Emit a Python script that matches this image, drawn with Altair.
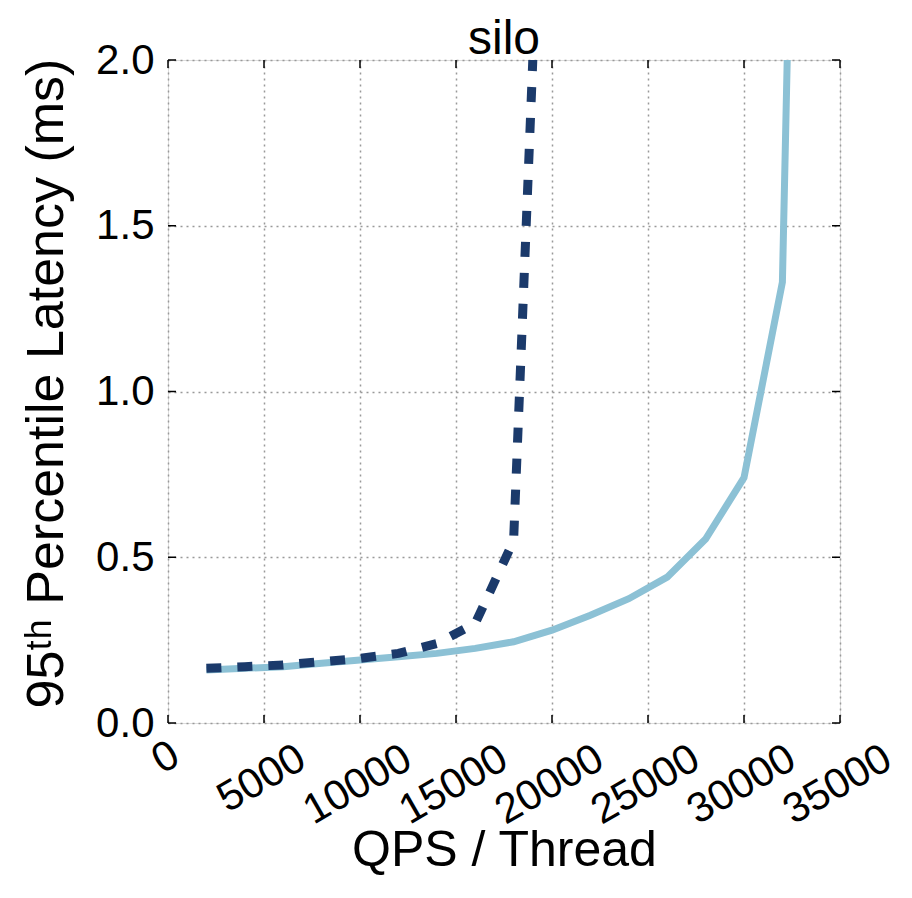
import altair as alt
import pandas as pd

# Light blue solid series
solid_qps = [2000, 4000, 6000, 8000, 10000, 12000, 14000, 16000, 18000, 20000,
             22000, 24000, 26000, 28000, 30000, 32000, 32400]
solid_lat = [0.16, 0.165, 0.17, 0.18, 0.19, 0.20, 0.21, 0.225, 0.245, 0.28,
             0.325, 0.375, 0.44, 0.555, 0.74, 1.33, 2.4]

# Dark navy dashed series
dashed_qps = [2000, 4000, 6000, 8000, 10000, 12000, 14000, 16000, 18000, 20000]
dashed_lat = [0.165, 0.17, 0.175, 0.185, 0.195, 0.21, 0.24, 0.30, 0.55, 3.45]

x_ticks = [0, 5000, 10000, 15000, 20000, 25000, 30000, 35000]
y_ticks = [0.0, 0.5, 1.0, 1.5, 2.0]
chart_title = ["silo"]

FONT = "Liberation Sans"
W, H = 672, 663
TICK = 8

df_solid = pd.DataFrame({"qps": solid_qps, "lat": solid_lat})
df_dashed = pd.DataFrame({"qps": dashed_qps, "lat": dashed_lat})
df_xt = pd.DataFrame({"qps": x_ticks})
df_yt = pd.DataFrame({"lat": y_ticks})
df_title = pd.DataFrame({"t": chart_title})

x_scale = alt.Scale(domain=[0, 35000], nice=False, zero=False)
y_scale = alt.Scale(domain=[0, 2.0], nice=False)

x_enc = alt.X(
    "qps:Q",
    scale=x_scale,
    axis=alt.Axis(
        values=x_ticks, format="d", title="QPS / Thread",
        labelAngle=330, labelAlign="center", labelBaseline="middle",
        labelPadding={"condition": [{"test": "datum.value == 0", "value": 34},
                                    {"test": "datum.value == 5000", "value": 55}],
                      "value": 61},
        labelOffset=-3,
        ticks=False, domain=False,
        labelFontSize=42, labelFont=FONT, labelColor="black",
        titleFontSize=50, titleFont=FONT, titleFontWeight="normal", titleColor="black",
        titleX=336, titleY=142, titleBaseline="alphabetic", titleAlign="center",
        grid=True, gridDash=[2, 4], gridColor="#999999", gridWidth=1.5,
        labelFlush=False, labelOverlap=False,
    ),
)
y_enc = alt.Y(
    "lat:Q",
    scale=y_scale,
    axis=alt.Axis(
        values=y_ticks, format=".1f", title="95ᵗʰ Percentile Latency (ms)",
        labelPadding=14, ticks=False, domain=False,
        labelFontSize=42, labelFont=FONT, labelColor="black",
        titleFontSize=52, titleFont=FONT, titleFontWeight="normal", titleColor="black",
        titleX=-122, titleY=323, titleAngle=270, titleBaseline="middle", titleAlign="center",
        grid=True, gridDash=[2, 4], gridColor="#999999", gridWidth=1.5,
        labelFlush=False, labelOverlap=False,
    ),
)

solid = alt.Chart(df_solid).mark_line(
    clip=True, color="#8cc1d5", strokeWidth=7
).encode(x=x_enc, y=y_enc)

dashed = alt.Chart(df_dashed).mark_line(
    clip=True, color="#1b3a6b", strokeWidth=9, strokeDash=[15, 16], strokeCap="butt"
).encode(x=alt.X("qps:Q", scale=x_scale), y=alt.Y("lat:Q", scale=y_scale))

# inward tick marks on all four sides (matplotlib classic style)
tick_style = dict(color="black", strokeWidth=1.5)
xt_bottom = alt.Chart(df_xt).mark_rule(**tick_style).encode(
    x=alt.X("qps:Q", scale=x_scale), y=alt.value(H - TICK), y2=alt.value(H))
xt_top = alt.Chart(df_xt).mark_rule(**tick_style).encode(
    x=alt.X("qps:Q", scale=x_scale), y=alt.value(0), y2=alt.value(TICK))
yt_left = alt.Chart(df_yt).mark_rule(**tick_style).encode(
    y=alt.Y("lat:Q", scale=y_scale), x=alt.value(0), x2=alt.value(TICK))
yt_right = alt.Chart(df_yt).mark_rule(**tick_style).encode(
    y=alt.Y("lat:Q", scale=y_scale), x=alt.value(W - TICK), x2=alt.value(W))

# chart title as a text mark placed just above the plot frame
title = alt.Chart(df_title).mark_text(
    font=FONT, fontSize=48, color="black", align="center", baseline="alphabetic"
).encode(text="t:N", x=alt.value(W / 2), y=alt.value(-6))

chart = alt.layer(solid, dashed, xt_bottom, xt_top, yt_left, yt_right, title).properties(
    width=W, height=H,
    autosize=alt.AutoSizeParams(type="none"),
    padding={"left": 168, "top": 60, "right": 72, "bottom": 175},
).configure_view(stroke="black", strokeWidth=2).configure(background="white")

chart.save("out.html", embed_options={"renderer": "svg", "actions": False})
